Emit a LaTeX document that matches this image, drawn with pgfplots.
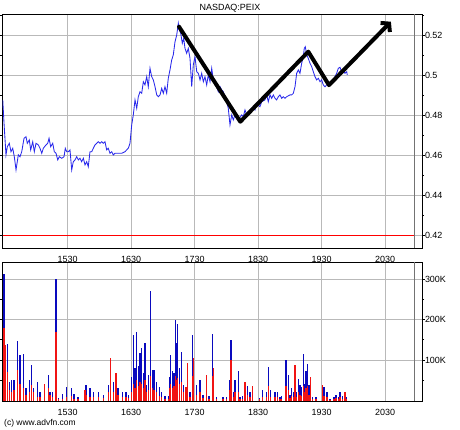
\documentclass[border=0pt]{standalone}
\usepackage{pgfplots}
\pgfplotsset{compat=1.18}
\usepackage{pgfplotstable}
\usepackage{fontspec}
\setmainfont{Liberation Sans}
\usetikzlibrary{arrows.meta}
\definecolor{priceblue}{RGB}{40,40,235}
\definecolor{volblue}{RGB}{10,10,190}
\definecolor{volred}{RGB}{240,20,20}
\definecolor{gridgray}{RGB}{185,185,185}

\pgfplotstableread{
x y
14.477 0.4879
14.497 0.4762
14.528 0.4604
14.549 0.4645
14.580 0.4662
14.607 0.4620
14.634 0.4637
14.659 0.4595
14.686 0.4529
14.722 0.4604
14.749 0.4595
14.776 0.4620
14.812 0.4687
14.843 0.4695
14.864 0.4662
14.895 0.4679
14.917 0.4629
14.949 0.4670
14.974 0.4620
15.001 0.4662
15.037 0.4654
15.064 0.4637
15.091 0.4612
15.116 0.4637
15.158 0.4654
15.185 0.4662
15.206 0.4687
15.232 0.4645
15.264 0.4662
15.289 0.4620
15.316 0.4612
15.343 0.4579
15.368 0.4595
15.406 0.4587
15.442 0.4595
15.462 0.4637
15.484 0.4620
15.510 0.4620
15.536 0.4629
15.563 0.4529
15.588 0.4570
15.615 0.4579
15.642 0.4595
15.667 0.4579
15.694 0.4587
15.720 0.4570
15.746 0.4587
15.772 0.4554
15.799 0.4570
15.824 0.4545
15.851 0.4620
15.878 0.4620
15.903 0.4637
15.930 0.4654
15.957 0.4662
15.982 0.4670
16.009 0.4662
16.035 0.4670
16.061 0.4662
16.087 0.4670
16.114 0.4629
16.139 0.4637
16.166 0.4612
16.193 0.4620
16.218 0.4604
16.245 0.4612
16.297 0.4612
16.350 0.4612
16.402 0.4620
16.429 0.4629
16.454 0.4637
16.481 0.4662
16.508 0.4754
16.533 0.4804
16.560 0.4879
16.587 0.4837
16.612 0.4895
16.639 0.4920
16.665 0.4912
16.691 0.4970
16.717 0.4954
16.744 0.4995
16.769 0.4945
16.796 0.5037
16.823 0.4995
16.848 0.4979
16.875 0.4945
16.902 0.4904
16.927 0.4895
16.954 0.4904
16.980 0.4937
17.006 0.4912
17.032 0.4945
17.059 0.4912
17.084 0.4987
17.111 0.5029
17.138 0.5079
17.163 0.5104
17.190 0.5170
17.217 0.5204
17.242 0.5262
17.258 0.5229
17.280 0.5212
17.305 0.5162
17.327 0.5187
17.347 0.5137
17.374 0.5112
17.399 0.5137
17.426 0.5087
17.453 0.4945
17.478 0.5054
17.505 0.5095
17.532 0.5020
17.557 0.5012
17.584 0.4979
17.610 0.5012
17.636 0.4970
17.662 0.4995
17.689 0.4954
17.714 0.5004
17.741 0.4970
17.768 0.5037
17.793 0.4979
17.820 0.4962
17.847 0.4945
17.872 0.4920
17.899 0.4945
17.925 0.4929
17.951 0.4920
17.977 0.4895
18.004 0.4870
18.029 0.4837
18.056 0.4754
18.083 0.4804
18.108 0.4779
18.135 0.4804
18.162 0.4787
18.187 0.4779
18.240 0.4804
18.266 0.4795
18.292 0.4829
18.319 0.4804
18.344 0.4804
18.371 0.4829
18.423 0.4845
18.450 0.4829
18.476 0.4862
18.528 0.4845
18.555 0.4870
18.607 0.4879
18.634 0.4904
18.659 0.4870
18.686 0.4904
18.713 0.4887
18.738 0.4904
18.765 0.4887
18.791 0.4879
18.817 0.4895
18.843 0.4904
18.870 0.4887
18.895 0.4895
18.922 0.4887
18.949 0.4895
19.001 0.4904
19.028 0.4904
19.053 0.4912
19.080 0.4945
19.106 0.5012
19.132 0.5029
19.158 0.5012
19.185 0.5062
19.210 0.5095
19.226 0.5137
19.242 0.5145
19.264 0.5104
19.289 0.5087
19.316 0.5062
19.343 0.5045
19.368 0.5020
19.395 0.4995
19.421 0.4979
19.447 0.4987
19.473 0.4970
19.500 0.4979
19.525 0.4954
19.552 0.4945
19.579 0.4954
19.631 0.4962
19.683 0.4979
19.736 0.5012
19.762 0.5037
19.788 0.5042
19.815 0.5020
19.840 0.5029
19.867 0.5012
19.894 0.5020
19.903 0.5004
}\pricetable

\pgfplotstableread{
x tot red
14.497 312 178
14.513 137 137
14.549 139 70
14.580 46 25
14.618 51 20
14.654 51 25
14.706 147 75
14.749 112 40
14.801 115 30
14.843 31 15
14.895 51 20
14.933 88 38
14.958 31 20
15.021 46 10
15.064 20 8
15.132 42 42
15.195 63 30
15.221 22 15
15.264 20 10
15.316 300 170
15.352 7 3
15.421 16 5
15.484 34 10
15.563 30 12
15.599 17 5
15.662 8 3
15.773 26 26
15.788 38 15
15.851 30 10
15.903 20 8
15.982 20 8
16.061 15 6
16.139 38 20
16.177 104 104
16.218 46 20
16.261 67 67
16.292 30 15
16.366 22 8
16.418 20 8
16.455 15 6
16.508 59 20
16.533 162 40
16.560 80 30
16.587 170 50
16.612 86 35
16.639 117 45
16.665 129 40
16.691 67 30
16.717 141 50
16.744 38 20
16.769 63 25
16.807 271 60
16.839 75 30
16.859 75 25
16.902 46 20
16.943 34 12
16.980 20 8
17.032 12 5
17.084 12 5
17.111 59 30
17.122 112 40
17.154 72 30
17.174 67 35
17.195 199 60
17.217 141 50
17.232 188 55
17.258 80 40
17.296 120 45
17.321 38 20
17.363 34 34
17.384 92 92
17.426 22 10
17.469 162 60
17.478 104 104
17.532 38 15
17.584 51 20
17.631 15 6
17.689 63 63
17.725 12 5
17.784 164 60
17.793 80 80
17.847 8 3
17.946 8 3
18.004 8 3
18.056 51 25
18.072 150 100
18.108 22 10
18.135 51 20
18.187 73 20
18.214 8 3
18.256 12 5
18.292 46 46
18.329 36 15
18.371 20 8
18.407 36 36
18.517 7 3
18.571 26 10
18.634 20 8
18.659 84 35
18.697 26 10
18.765 20 8
18.801 22 10
18.843 8 3
18.870 12 5
18.938 100 35
18.974 63 25
19.001 15 6
19.028 30 12
19.053 22 10
19.080 88 88
19.095 22 10
19.132 54 20
19.158 38 15
19.185 34 12
19.210 115 35
19.237 42 20
19.253 73 30
19.273 90 35
19.300 38 15
19.320 58 58
19.358 8 3
19.410 8 3
19.516 38 38
19.536 34 12
19.579 20 8
19.588 22 10
19.631 4 2
19.694 8 3
19.725 15 6
19.761 8 3
19.788 22 10
19.830 12 5
19.867 20 20
19.894 8 3
}\voltable

\pgfplotsset{
  advfn/.style={
    scale only axis,
    width=419.5bp,
    xmin=14.473, xmax=21.080,
    axis line style={black, line width=0.9bp},
    grid=major,
    major grid style={gridgray, line width=0.6bp},
    xtick={15.5,16.5,17.5,18.5,19.5,20.5},
    xticklabels={1530,1630,1730,1830,1930,2030},
    x tick style={draw=none},
    yticklabel pos=right,
    tick align=outside,
    major tick length=2.5bp,
    minor tick length=2bp,
    y tick style={black, line width=0.6bp},
    minor y tick style={black, line width=0.6bp},
    tick label style={font=\fontsize{9}{9}\selectfont},
    xticklabel style={inner sep=0pt, yshift=-5.3bp},
    yticklabel style={inner sep=0pt, xshift=0.3bp},
    /pgf/number format/assume math mode=true,
    clip=true,
  }
}

\begin{document}
\begin{tikzpicture}
\useasboundingbox (0bp,0bp) rectangle (460bp,-430bp);

\begin{axis}[advfn,
  at={(2.5bp,-14.3bp)}, anchor=north west,
  height=233.7bp,
  ymin=0.41385, ymax=0.5307,
  ytick={0.42,0.44,0.46,0.48,0.5,0.52},
  yticklabels={0.42,0.44,0.46,0.48,0.5,0.52},
  minor ytick={0.43,0.45,0.47,0.49,0.51,0.53},
]
\addplot[red, line width=0.8bp] coordinates {(14.473,0.42) (20.954,0.42)};
\addplot[black!55, line width=0.9bp] coordinates {(20.954,0.41385) (20.954,0.5307)};
\addplot[priceblue, line width=0.85bp] table[x=x, y=y] {\pricetable};
\addplot[black, line width=4bp, line join=round, line cap=round,
  -{Straight Barb[length=5.5bp, width=13bp, line width=4bp]}]
  coordinates {(17.253,0.5245) (18.218,0.4770) (19.289,0.5120) (19.615,0.4953) (20.590,0.5270)};
\end{axis}

\begin{axis}[advfn,
  at={(2.5bp,-262.3bp)}, anchor=north west,
  height=138.7bp,
  ymin=-1, ymax=341,
  ytick={100,200,300},
  yticklabels={100K,200K,300K},
  minor ytick={50,150,250},
]
\addplot[black!55, line width=0.9bp] coordinates {(20.954,-1) (20.954,341)};
\addplot[ycomb, volblue, line width=1.1bp, mark=none] table[x=x, y=tot] {\voltable};
\addplot[ycomb, volred, line width=1.1bp, mark=none] table[x=x, y=red] {\voltable};
\end{axis}

\node[font=\fontsize{9}{9}\selectfont, inner sep=0pt] at (230bp,-8.3bp) {NASDAQ:PEIX};
\node[font=\fontsize{8.5}{8.5}\selectfont, inner sep=0pt, anchor=west] at (4bp,-423bp) {(c) www.advfn.com};
\end{tikzpicture}
\end{document}
